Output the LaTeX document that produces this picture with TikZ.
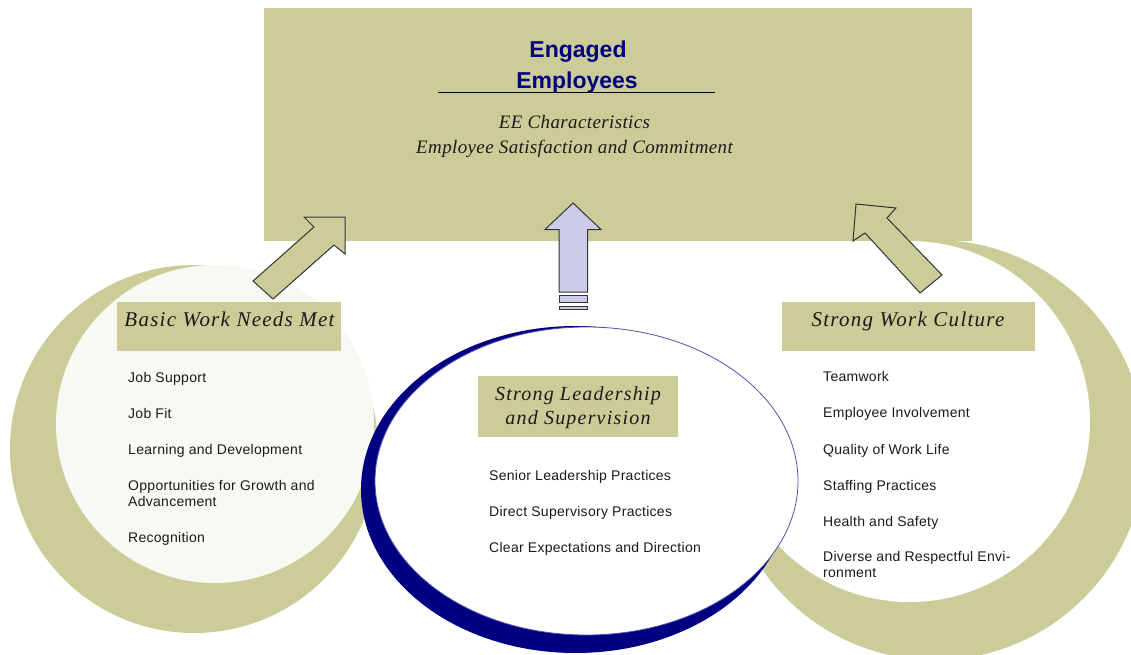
\documentclass[tikz,border=0pt]{standalone}
\usepackage{fontspec}
\setmainfont{Liberation Serif}
\newfontfamily\listfont[LetterSpace=2]{Liberation Sans}
\newfontfamily\titlefont{Liberation Sans}
\newfontfamily\headfont[LetterSpace=6]{Liberation Serif}
\newfontfamily\subfont[LetterSpace=2]{Liberation Serif}

\definecolor{khaki}{HTML}{CCCC99}
\definecolor{offwhite}{HTML}{F9F9F3}
\definecolor{navyblue}{HTML}{000080}
\definecolor{lavender}{HTML}{CCCCE8}
\definecolor{ink}{HTML}{1A1A1A}
\definecolor{rim}{HTML}{5050B0}
\definecolor{edge}{HTML}{333333}

\tikzset{
  item/.style={anchor=base west, inner sep=0pt, text=ink,
    font=\listfont\fontsize{14}{16}\selectfont},
  heading/.style={anchor=base, inner sep=0pt, text=ink,
    font=\headfont\itshape\fontsize{21}{24.3}\selectfont},
  labelbox/.style={fill=khaki, draw=none},
  blockarrow/.style={fill=khaki, draw=edge, line width=1pt, line join=miter},
}

\begin{document}
\begin{tikzpicture}[x=1pt, y=-1pt]
  \useasboundingbox (0,0) rectangle (1131,655);
  \fill[white] (0,0) rectangle (1131,655);
  \clip (0,0) rectangle (1131,655);

  % left crescent: basic work needs
  \fill[khaki] (194,449) circle[radius=184pt];
  \fill[offwhite] (215,424) circle[radius=159pt];

  % right crescent: work culture
  \fill[khaki] (935,450) circle[radius=210pt];
  \fill[white] (909.5,421.5) circle[radius=180.5pt];

  % central ellipse: leadership
  \fill[navyblue] (575.5,489.5) ellipse[x radius=214.5pt, y radius=163.5pt];
  \filldraw[fill=white, draw=rim, line width=0.8pt]
    (586.5,481) ellipse[x radius=211.5pt, y radius=154pt];

  % outcome box
  \fill[khaki] (264,8) rectangle (972,241);

  % block arrows into the outcome box
  \filldraw[blockarrow] (345,217) -- (304,217) -- (314,227) -- (253,281)
    -- (273,299) -- (334,245) -- (345,254) -- cycle;
  \filldraw[blockarrow] (856,204) -- (896,208) -- (887,218) -- (942,275)
    -- (920,293) -- (865,233) -- (853,241) -- cycle;
  \filldraw[blockarrow, fill=lavender] (573,203) -- (601,229.5) -- (587.5,229.5)
    -- (587.5,292) -- (559,292) -- (559,229.5) -- (545,229.5) -- cycle;
  \filldraw[blockarrow, fill=lavender] (559,295) rectangle (587.5,302.5);
  \filldraw[blockarrow, fill=lavender] (559,306) rectangle (587.5,309);

  % outcome texts
  \node[anchor=base, inner sep=0pt, text=navyblue,
        font=\titlefont\bfseries\fontsize{23}{26}\selectfont] (eng1) at (578,58) {Engaged};
  \node[anchor=base, inner sep=0pt, text=navyblue,
        font=\titlefont\bfseries\fontsize{23}{26}\selectfont] (eng2) at (577,89) {Employees};
  \draw[black, line width=1pt] (438,93) -- (715,93);
  \node[anchor=base, inner sep=0pt, text=ink,
        font=\subfont\itshape\fontsize{19}{22}\selectfont] (eec) at (574.5,128.3) {EE Characteristics};
  \node[anchor=base, inner sep=0pt, text=ink,
        font=\subfont\itshape\fontsize{19}{22}\selectfont] (esc) at (574.5,153.3) {Employee Satisfaction and Commitment};

  % label boxes
  \fill[labelbox] (117,302) rectangle (341,351);
  \node[heading] (hbasic) at (229.5,326) {Basic Work Needs Met};
  \fill[labelbox] (782,302) rectangle (1035,351);
  \node[heading] (hculture) at (908,326.5) {Strong Work Culture};
  \fill[labelbox] (478,376) rectangle (678,437);
  \node[heading, font=\headfont\itshape\fontsize{20}{24.3}\selectfont] (hlead) at (578,400)
    {\begin{tabular}[t]{@{}c@{}}Strong Leadership\\ and Supervision\end{tabular}};

  % basic work needs items
  \node[item] (b1) at (128,382.7) {Job Support};
  \node[item] (b2) at (128,418.6) {Job Fit};
  \node[item] (b3) at (128,454.3) {Learning and Development};
  \node[item] (b4) at (128,490.3)
    {\begin{tabular}[t]{@{}l@{}}Opportunities for Growth and\\ Advancement\end{tabular}};
  \node[item] (b5) at (128,542) {Recognition};

  % leadership items
  \node[item] (l1) at (489,480.3) {Senior Leadership Practices};
  \node[item] (l2) at (489,516.3) {Direct Supervisory Practices};
  \node[item] (l3) at (489,552.3) {Clear Expectations and Direction};

  % work culture items
  \node[item] (c1) at (823,381.3) {Teamwork};
  \node[item] (c2) at (823,417.6) {Employee Involvement};
  \node[item] (c3) at (823,454.3) {Quality of Work Life};
  \node[item] (c4) at (823,490.3) {Staffing Practices};
  \node[item] (c5) at (823,526.3) {Health and Safety};
  \node[item] (c6) at (823,561.3)
    {\begin{tabular}[t]{@{}l@{}}Diverse and Respectful Envi-\\ ronment\end{tabular}};
\end{tikzpicture}
\end{document}
